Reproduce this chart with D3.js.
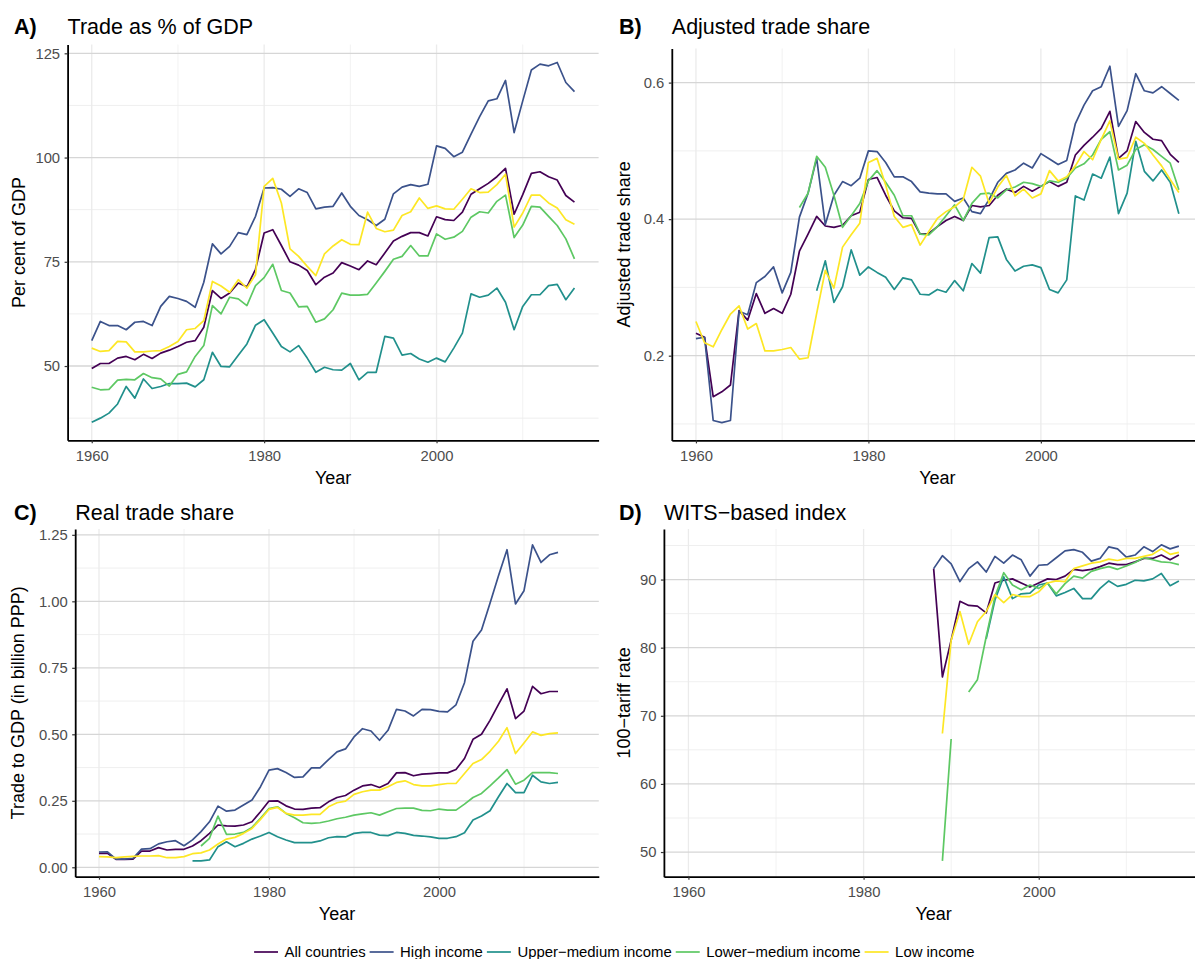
<!DOCTYPE html>
<html>
<head>
<meta charset="utf-8">
<script src="https://cdn.jsdelivr.net/npm/d3@7"></script>
<style>
  body { margin: 0; background: #ffffff; }
  svg { display: block; font-family: "Liberation Sans", Arial, Helvetica, sans-serif; }
</style>
</head>
<body>
<svg id="chart" width="1195" height="959"></svg>
<script>
// ---- categories and axes ----
const groups = ["All countries", "High income", "Upper\u2212medium income", "Lower\u2212medium income", "Low income"];
const groupColors = ["#440154", "#3B528B", "#21908C", "#5DC863", "#FDE725"];

const years = d3.range(1960, 2017);      // panels A and B
const yearsRTS = d3.range(1960, 2015);   // panel C
const yearsWITS = d3.range(1988, 2017);  // panel D

const yearTicks = [1960, 1980, 2000];
const yearMinor = [1970, 1990, 2010];

const tradeTicks = [50, 75, 100, 125];
const tradeMinor = [37.5, 62.5, 87.5, 112.5];
const adjTicks = [0.2, 0.4, 0.6];
const adjMinor = [0.1, 0.3, 0.5];
const rtsTicks = [0, 0.25, 0.5, 0.75, 1, 1.25];
const rtsMinor = [0.125, 0.375, 0.625, 0.875, 1.125];
const witsTicks = [50, 60, 70, 80, 90];
const witsMinor = [55, 65, 75, 85, 95];

// ---- A) Trade as % of GDP, 1960-2016 ----
const tradeAll = [49.4, 50.6, 50.6, 51.9, 52.3, 51.5, 52.8, 51.8, 53.1, 53.8,
  54.7, 55.7, 56.1, 59.3, 68.1, 66.2, 67.5, 69.9, 69.0, 73.2,
  81.9, 82.7, 78.9, 75.0, 74.2, 72.9, 69.5, 71.3, 72.3, 74.8,
  74.0, 73.1, 75.2, 74.3, 77.1, 80.0, 81.1, 82.0, 82.0, 81.2,
  85.8, 85.1, 84.9, 86.9, 91.2, 92.5, 93.8, 95.4, 97.4, 86.4,
  91.1, 96.2, 96.6, 95.4, 94.6, 90.9, 89.3];
const tradeHigh = [56.1, 60.7, 59.7, 59.7, 58.7, 60.5, 60.7, 59.7, 64.3, 66.7,
  66.2, 65.5, 64.1, 70.1, 79.3, 76.9, 78.7, 82.0, 81.5, 85.9,
  92.7, 92.8, 92.4, 90.7, 92.5, 91.6, 87.7, 88.1, 88.3, 91.5,
  88.3, 86.1, 85.1, 83.7, 85.2, 91.3, 92.9, 93.5, 93.1, 93.6,
  102.8, 102.2, 100.2, 101.3, 105.6, 109.8, 113.6, 114.1, 118.5, 106.0,
  113.6, 121.0, 122.4, 122.0, 122.8, 118.0, 115.8];
const tradeUpper = [36.5, 37.5, 38.7, 40.9, 45.1, 42.3, 46.9, 44.6, 45.1, 45.8,
  45.8, 45.9, 45.0, 46.7, 53.3, 49.9, 49.8, 52.6, 55.3, 59.8,
  61.1, 57.9, 54.7, 53.4, 54.9, 51.9, 48.5, 49.7, 49.1, 49.0,
  50.6, 46.7, 48.5, 48.5, 57.1, 56.7, 52.6, 53.0, 51.7, 50.9,
  51.9, 51.0, 54.3, 57.9, 67.3, 66.5, 67.0, 68.7, 65.3, 58.7,
  64.3, 67.1, 67.1, 69.3, 69.6, 65.9, 68.7];
const tradeLower = [44.9, 44.3, 44.4, 46.6, 46.8, 46.7, 48.2, 47.2, 46.9, 45.2,
  48.0, 48.6, 52.3, 54.9, 64.5, 62.5, 66.5, 66.1, 64.5, 69.3,
  71.2, 74.4, 68.1, 67.5, 64.2, 64.3, 60.5, 61.3, 63.5, 67.5,
  67.0, 67.0, 67.2, 69.9, 72.7, 75.6, 76.3, 78.9, 76.4, 76.4,
  81.7, 80.4, 80.9, 82.3, 85.7, 87.0, 86.7, 89.5, 91.0, 80.8,
  83.8, 88.3, 88.1, 85.9, 83.7, 80.5, 75.7];
const tradeLow = [54.3, 53.5, 53.7, 55.9, 55.8, 53.4, 53.4, 53.6, 53.7, 54.7,
  55.9, 58.7, 59.0, 60.9, 70.3, 69.2, 67.7, 70.7, 68.7, 71.9,
  93.1, 95.0, 89.1, 78.1, 76.3, 73.9, 71.7, 76.9, 78.8, 80.3,
  79.2, 79.1, 86.9, 83.0, 82.2, 82.6, 86.1, 87.0, 90.3, 87.8,
  88.4, 87.7, 87.6, 90.0, 92.5, 91.6, 91.7, 93.5, 96.0, 83.3,
  86.7, 91.0, 91.0, 89.1, 87.9, 85.1, 84.0];

// ---- B) Adjusted trade share, 1960-2016 ----
const adjAll = [0.233, 0.227, 0.140, 0.147, 0.157, 0.266, 0.252, 0.291, 0.262, 0.269,
  0.262, 0.290, 0.353, 0.378, 0.404, 0.390, 0.388, 0.391, 0.405, 0.410,
  0.458, 0.461, 0.435, 0.412, 0.402, 0.401, 0.378, 0.379, 0.389, 0.398,
  0.404, 0.398, 0.420, 0.418, 0.420, 0.435, 0.444, 0.439, 0.448, 0.441,
  0.448, 0.455, 0.448, 0.454, 0.494, 0.508, 0.520, 0.533, 0.558, 0.489,
  0.500, 0.543, 0.527, 0.517, 0.515, 0.495, 0.483];
const adjHigh = [0.225, 0.227, 0.105, 0.102, 0.105, 0.265, 0.260, 0.307, 0.316, 0.330,
  0.292, 0.322, 0.403, 0.438, 0.489, 0.392, 0.435, 0.455, 0.449, 0.460,
  0.500, 0.499, 0.483, 0.462, 0.462, 0.455, 0.440, 0.438, 0.437, 0.437,
  0.426, 0.431, 0.411, 0.408, 0.429, 0.454, 0.467, 0.472, 0.482, 0.475,
  0.496, 0.488, 0.480, 0.486, 0.540, 0.567, 0.588, 0.594, 0.624, 0.536,
  0.559, 0.613, 0.588, 0.585, 0.594, 0.584, 0.574];
const adjUpper = [null, null, null, null, null, null, null, null, null, null,
  null, null, null, null, 0.295, 0.339, 0.278, 0.301, 0.355, 0.318,
  0.330, 0.322, 0.315, 0.297, 0.314, 0.311, 0.290, 0.289, 0.297, 0.293,
  0.310, 0.295, 0.335, 0.321, 0.373, 0.374, 0.341, 0.324, 0.331, 0.333,
  0.329, 0.297, 0.292, 0.311, 0.434, 0.428, 0.466, 0.460, 0.491, 0.408,
  0.438, 0.514, 0.470, 0.456, 0.472, 0.454, 0.408];
const adjLower = [null, null, null, null, null, null, null, null, null, null,
  null, null, 0.417, 0.438, 0.492, 0.476, 0.435, 0.388, 0.405, 0.423,
  0.456, 0.471, 0.454, 0.435, 0.405, 0.405, 0.378, 0.377, 0.389, 0.405,
  0.421, 0.398, 0.423, 0.437, 0.438, 0.431, 0.443, 0.447, 0.454, 0.452,
  0.448, 0.456, 0.454, 0.460, 0.475, 0.481, 0.494, 0.517, 0.528, 0.472,
  0.479, 0.502, 0.509, 0.502, 0.492, 0.482, 0.443];
const adjLow = [0.250, 0.219, 0.213, 0.238, 0.261, 0.273, 0.239, 0.247, 0.207, 0.207,
  0.209, 0.212, 0.195, 0.197, 0.262, 0.325, 0.299, 0.359, 0.377, 0.394,
  0.483, 0.489, 0.450, 0.404, 0.388, 0.392, 0.362, 0.382, 0.401, 0.411,
  0.418, 0.429, 0.476, 0.463, 0.423, 0.447, 0.464, 0.434, 0.444, 0.431,
  0.437, 0.471, 0.456, 0.462, 0.478, 0.499, 0.487, 0.517, 0.544, 0.488,
  0.490, 0.520, 0.511, 0.494, 0.478, 0.458, 0.439];

// ---- C) Real trade share, 1960-2014 ----
const rtsAll = [0.0525, 0.0525, 0.030, 0.030, 0.031, 0.061, 0.061, 0.074, 0.065, 0.0675,
  0.0675, 0.080, 0.100, 0.1275, 0.159, 0.156, 0.155, 0.159, 0.171, 0.209,
  0.249, 0.250, 0.231, 0.219, 0.2175, 0.2225, 0.224, 0.246, 0.2625, 0.270,
  0.290, 0.306, 0.311, 0.300, 0.315, 0.355, 0.356, 0.344, 0.350, 0.3525,
  0.355, 0.355, 0.3675, 0.409, 0.481, 0.500, 0.5525, 0.6125, 0.671, 0.559,
  0.5875, 0.680, 0.6525, 0.661, 0.661];
const rtsHigh = [0.0575, 0.058, 0.031, 0.031, 0.034, 0.068, 0.070, 0.088, 0.096, 0.100,
  0.081, 0.103, 0.134, 0.171, 0.230, 0.211, 0.215, 0.234, 0.253, 0.303,
  0.365, 0.371, 0.356, 0.338, 0.340, 0.374, 0.374, 0.405, 0.434, 0.445,
  0.490, 0.521, 0.5125, 0.4775, 0.515, 0.594, 0.5875, 0.569, 0.594, 0.5925,
  0.586, 0.584, 0.611, 0.694, 0.850, 0.8925, 0.9925, 1.096, 1.194, 0.990,
  1.040, 1.2125, 1.146, 1.175, 1.184];
const rtsUpper = [null, null, null, null, null, null, null, null, null, null,
  null, 0.024, 0.024, 0.0275, 0.0775, 0.096, 0.0775, 0.090, 0.106, 0.1175,
  0.131, 0.115, 0.1025, 0.0925, 0.0925, 0.0925, 0.099, 0.111, 0.115, 0.114,
  0.1275, 0.131, 0.131, 0.121, 0.119, 0.131, 0.1275, 0.120, 0.1175, 0.114,
  0.109, 0.109, 0.115, 0.130, 0.1775, 0.1925, 0.2125, 0.265, 0.315, 0.281,
  0.281, 0.346, 0.321, 0.315, 0.319];
const rtsLower = [null, null, null, null, null, null, null, null, null, null,
  null, null, 0.080, 0.109, 0.1925, 0.124, 0.125, 0.131, 0.150, 0.184,
  0.221, 0.2275, 0.2025, 0.186, 0.1675, 0.165, 0.1675, 0.174, 0.1825, 0.188,
  0.196, 0.201, 0.205, 0.196, 0.209, 0.221, 0.2225, 0.2225, 0.214, 0.2125,
  0.219, 0.215, 0.215, 0.2375, 0.2625, 0.2775, 0.306, 0.336, 0.3675, 0.3125,
  0.3275, 0.356, 0.356, 0.356, 0.3525];
const rtsLow = [0.040, 0.039, 0.036, 0.039, 0.041, 0.0425, 0.0425, 0.044, 0.036, 0.036,
  0.040, 0.051, 0.054, 0.065, 0.0875, 0.106, 0.1125, 0.1275, 0.146, 0.180,
  0.2175, 0.225, 0.2025, 0.196, 0.196, 0.199, 0.199, 0.2275, 0.2425, 0.249,
  0.274, 0.284, 0.290, 0.290, 0.3025, 0.319, 0.325, 0.311, 0.306, 0.306,
  0.311, 0.315, 0.315, 0.3525, 0.390, 0.405, 0.436, 0.474, 0.525, 0.4275,
  0.4675, 0.509, 0.496, 0.5025, 0.505];

// ---- D) WITS-based index (100 - tariff rate), 1988-2016 ----
const witsAll = [91.6, 75.7, 81.1, 86.8, 86.2, 86.1, 85.1, 89.5, 89.9, 90.1,
  89.5, 88.9, 89.5, 90.1, 90.0, 90.5, 91.5, 91.3, 91.5, 91.9,
  92.4, 92.2, 92.2, 92.6, 93.1, 93.1, 93.6, 92.9, 93.6];
const witsHigh = [91.6, 93.5, 92.3, 89.7, 91.6, 92.6, 91.1, 93.4, 92.4, 93.6,
  92.9, 90.5, 92.1, 92.2, 93.2, 94.2, 94.4, 94.0, 92.7, 93.1,
  94.8, 94.5, 93.3, 93.6, 94.8, 94.1, 95.1, 94.5, 94.9];
const witsUpper = [null, null, null, null, null, null, 81.3, 87.0, 90.4, 87.2,
  87.9, 88.0, 89.2, 89.5, 87.6, 88.1, 88.7, 87.2, 87.2, 88.7,
  89.8, 89.0, 89.3, 89.9, 89.8, 90.1, 90.9, 89.1, 89.8];
const witsLower = [null, 48.7, 66.6, null, 73.5, 75.3, 81.6, 87.5, 91.0, 89.2,
  88.5, 89.2, 88.7, 89.5, 87.9, 89.4, 90.5, 90.2, 91.2, 91.6,
  91.9, 91.5, 92.0, 92.5, 93.2, 92.9, 92.6, 92.5, 92.2];
const witsLow = [null, 67.4, 81.1, 85.3, 80.5, 83.8, 85.3, 87.8, 86.6, 87.8,
  87.5, 87.5, 88.2, 89.5, 89.8, 89.7, 91.6, 92.0, 92.4, 92.6,
  93.0, 92.8, 93.1, 93.1, 93.4, 93.7, 94.5, 93.7, 94.0];

// ---- panel definitions ----
const panels = [
  { tag: "A)", title: "Trade as % of GDP", yTitle: "Per cent of GDP",
    x: years, series: [tradeAll, tradeHigh, tradeUpper, tradeLower, tradeLow],
    ticks: tradeTicks, minor: tradeMinor, fmt: d3.format("d"),
    rect: { l: 67.6, r: 598.6, t: 44.5, b: 440.3 }, tagX: 14, titleY: 33.5, yTitleX: 24.5 },
  { tag: "B)", title: "Adjusted trade share", yTitle: "Adjusted trade share",
    x: years, series: [adjAll, adjHigh, adjUpper, adjLower, adjLow],
    ticks: adjTicks, minor: adjMinor, fmt: d3.format(".1f"),
    rect: { l: 671.8, r: 1203, t: 48.4, b: 440.4 }, tagX: 619, titleY: 33.5, yTitleX: 630 },
  { tag: "C)", title: "Real trade share", yTitle: "Trade to GDP (in billion PPP)",
    x: yearsRTS, series: [rtsAll, rtsHigh, rtsUpper, rtsLower, rtsLow],
    ticks: rtsTicks, minor: rtsMinor, fmt: d3.format(".2f"),
    rect: { l: 75.2, r: 598.8, t: 529, b: 876.7 }, tagX: 14, titleY: 520, yTitleX: 24 },
  { tag: "D)", title: "WITS\u2212based index", yTitle: "100\u2212tariff rate",
    x: yearsWITS, series: [witsAll, witsHigh, witsUpper, witsLower, witsLow],
    ticks: witsTicks, minor: witsMinor, fmt: d3.format("d"),
    rect: { l: 663.9, r: 1203.4, t: 529, b: 876.7 }, tagX: 619, titleY: 520, yTitleX: 630 }
];

const svg = d3.select("#chart");
svg.append("rect").attr("width", 1195).attr("height", 959).attr("fill", "#ffffff");

// shared x range across panels, with 5% padding like ggplot's default expansion
const xExt = d3.extent(years);
const xPad = (xExt[1] - xExt[0]) * 0.05;

const tickFont = 14.8, legendFont = 14.9, axisTitleFont = 18, titleFont = 21.5;

panels.forEach(p => {
  const { l, r, t, b } = p.rect;
  const vals = p.series.flat().filter(v => v != null);
  const ext = d3.extent(vals);
  const pad = (ext[1] - ext[0]) * 0.05;
  const x = d3.scaleLinear().domain([xExt[0] - xPad, xExt[1] + xPad]).range([l, r]);
  const y = d3.scaleLinear().domain([ext[0] - pad, ext[1] + pad]).range([b, t]);

  const g = svg.append("g");

  // grid: minor first, then major
  g.selectAll(null).data(yearMinor).join("line")
    .attr("x1", d => x(d)).attr("x2", d => x(d)).attr("y1", t).attr("y2", b)
    .attr("stroke", "#f0f0f0").attr("stroke-width", 0.9);
  g.selectAll(null).data(p.minor).join("line")
    .attr("x1", l).attr("x2", r).attr("y1", d => y(d)).attr("y2", d => y(d))
    .attr("stroke", "#ededed").attr("stroke-width", 0.9);
  g.selectAll(null).data(yearTicks).join("line")
    .attr("x1", d => x(d)).attr("x2", d => x(d)).attr("y1", t).attr("y2", b)
    .attr("stroke", "#ebebeb").attr("stroke-width", 1.3);
  g.selectAll(null).data(p.ticks).join("line")
    .attr("x1", l).attr("x2", r).attr("y1", d => y(d)).attr("y2", d => y(d))
    .attr("stroke", "#d6d6d6").attr("stroke-width", 1.3);

  // series lines, drawn in legend order
  const line = d3.line()
    .defined(d => d[1] != null)
    .x(d => x(d[0])).y(d => y(d[1]));
  p.series.forEach((s, i) => {
    g.append("path")
      .datum(p.x.map((yr, k) => [yr, s[k]]))
      .attr("d", line)
      .attr("fill", "none")
      .attr("stroke", groupColors[i])
      .attr("stroke-width", 1.7)
      .attr("stroke-linejoin", "round");
  });

  // axes
  const xAxis = d3.axisBottom(x).tickValues(yearTicks).tickFormat(d3.format("d"))
    .tickSizeInner(3).tickSizeOuter(0).tickPadding(7);
  const ax = g.append("g").attr("transform", `translate(0,${b})`).call(xAxis);
  const yAxis = d3.axisLeft(y).tickValues(p.ticks).tickFormat(p.fmt)
    .tickSizeInner(3).tickSizeOuter(0).tickPadding(4.5);
  const ay = g.append("g").attr("transform", `translate(${l},0)`).call(yAxis);
  [ax, ay].forEach(a => {
    a.select(".domain").attr("stroke", "#000").attr("stroke-width", 1.8);
    a.selectAll(".tick line").attr("stroke", "#333333").attr("stroke-width", 1.2);
    a.selectAll(".tick text").attr("fill", "#4d4d4d")
      .style("font-size", tickFont + "px")
      .style("font-family", "'Liberation Sans', Arial, sans-serif");
  });

  // axis titles
  g.append("text")
    .attr("x", (l + r) / 2).attr("y", b + 43.5)
    .attr("text-anchor", "middle")
    .style("font-size", axisTitleFont + "px").attr("fill", "#000")
    .text("Year");
  g.append("text")
    .attr("transform", `translate(${p.yTitleX},${(t + b) / 2}) rotate(-90)`)
    .attr("text-anchor", "middle")
    .style("font-size", axisTitleFont + "px").attr("fill", "#000")
    .text(p.yTitle);

  // tag and title
  g.append("text")
    .attr("x", p.tagX).attr("y", p.titleY)
    .style("font-size", titleFont + "px").style("font-weight", "bold").attr("fill", "#000")
    .text(p.tag);
  g.append("text")
    .attr("x", l).attr("y", p.titleY)
    .style("font-size", titleFont + "px").attr("fill", "#000")
    .text(p.title);
});

// legend along the bottom
const legend = svg.append("g");
let lx = 254;
const keyY = 952, keyW = 24;
groups.forEach((name, i) => {
  legend.append("line")
    .attr("x1", lx).attr("x2", lx + keyW).attr("y1", keyY).attr("y2", keyY)
    .attr("stroke", groupColors[i]).attr("stroke-width", 1.7);
  const txt = legend.append("text")
    .attr("x", lx + keyW + 6.5).attr("y", keyY + 5.3)
    .style("font-size", legendFont + "px").attr("fill", "#000")
    .text(name);
  lx = lx + keyW + 6.5 + txt.node().getComputedTextLength() + 4;
});
</script>
</body>
</html>
